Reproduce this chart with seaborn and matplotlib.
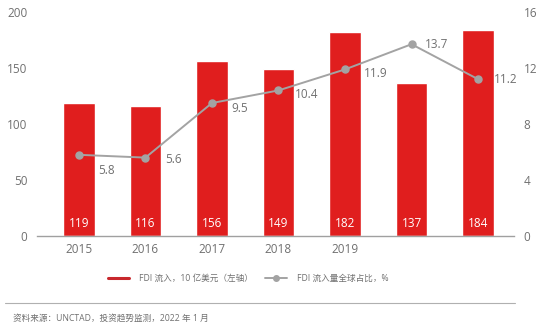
import matplotlib
matplotlib.use("Agg")
import matplotlib.pyplot as plt
import seaborn as sns
import pandas as pd
from matplotlib.lines import Line2D

years = ["2015", "2016", "2017", "2018", "2019", "2020", "2021"]
tick_labels = ["2015", "2016", "2017", "2018", "2019", "", ""]
fdi_inflow = [119, 116, 156, 149, 182, 137, 184]
global_share = [5.8, 5.6, 9.5, 10.4, 11.9, 13.7, 11.2]
left_ticks = [0, 50, 100, 150, 200]
right_ticks = [0, 4, 8, 12, 16]
legend_labels = ["FDI 流入，10 亿美元（左轴）", "FDI 流入量全球占比，%"]
source_text = "资料来源：UNCTAD，投资趋势监测，2022 年 1 月"

# label offsets (points) for the share labels
share_offsets = [(20, -11), (20, -1), (20, -4), (20, -3), (22, -3), (18, 0), (20, 0)]

sns.set_theme(style="white")
plt.rcParams["font.family"] = ["Open Sans", "Noto Sans CJK SC", "DejaVu Sans"]

RED = "#e01e1e"
GRAY = "#a3a3a3"
TXT = "#707070"

df = pd.DataFrame({"year": years, "fdi": fdi_inflow, "share": global_share})

fig = plt.figure(figsize=(5.54, 3.30), dpi=100)
ax = fig.add_axes([0.0668, 0.2848, 0.861, 0.6788])
sns.barplot(data=df, x="year", y="fdi", color=RED, width=0.47, saturation=1,
            ax=ax, zorder=2)
ax.set_ylim(0, 200)
ax.set_yticks(left_ticks)
ax.set_xlim(-0.63, 6.54)
ax.set_xticks(range(len(years)))
ax.set_xticklabels(tick_labels)
ax.set_xlabel("")
ax.set_ylabel("")
for s in ["top", "right", "left"]:
    ax.spines[s].set_visible(False)
ax.spines["bottom"].set_color("#a0a0a0")
ax.spines["bottom"].set_linewidth(1.0)
ax.tick_params(axis="both", length=0, labelsize=8.5, colors=TXT)
ax.tick_params(axis="y", pad=7)
ax.tick_params(axis="x", pad=5)

for container in ax.containers:
    ax.bar_label(container, labels=[str(v) for v in fdi_inflow], label_type="edge",
                 padding=-15, color="white", fontsize=8.5)
# move bar labels to base
for t, v in zip(ax.texts, fdi_inflow):
    t.xy = (t.xy[0], 0)
    t.xyann = (0, 4)
    t.set_va("bottom")

ax2 = ax.twinx()
ax2.set_position(ax.get_position())
sns.pointplot(data=df, x="year", y="share", color=GRAY, ax=ax2,
              markers="o", markersize=5, linewidth=1.4, zorder=3)
ax2.set_ylim(0, 16)
ax2.set_yticks(right_ticks)
ax2.set_xlim(-0.63, 6.54)
ax2.set_ylabel("")
ax2.set_xlabel("")
for s in ax2.spines.values():
    s.set_visible(False)
ax2.tick_params(axis="y", length=0, labelsize=8.5, colors=TXT, pad=7)
ax2.tick_params(axis="x", length=0)
ax2.set_xticks(range(len(years)))
ax2.set_xticklabels(tick_labels)

for i, (v, off) in enumerate(zip(global_share, share_offsets)):
    ax2.annotate(f"{v}", xy=(i, v), xytext=off, textcoords="offset points",
                 ha="center", va="center", fontsize=8.5, color=TXT)

handles = [Line2D([0], [0], color="#c8282d", lw=2.2),
           Line2D([0], [0], color=GRAY, lw=1.4, marker="o", markersize=4)]
fig.legend(handles, legend_labels, loc="center", bbox_to_anchor=(0.448, 0.157),
           ncol=2, frameon=False, fontsize=6.2, labelcolor=TXT,
           handlelength=2.5, columnspacing=1.4, handletextpad=1.2)

fig.add_artist(Line2D([0.009, 0.93], [0.082, 0.082], color="#b0b0b0", lw=0.8,
                      transform=fig.transFigure))
fig.text(0.023, 0.035, source_text, fontsize=6.2, color=TXT, va="center", ha="left")

fig.savefig("out.png", dpi=100)
